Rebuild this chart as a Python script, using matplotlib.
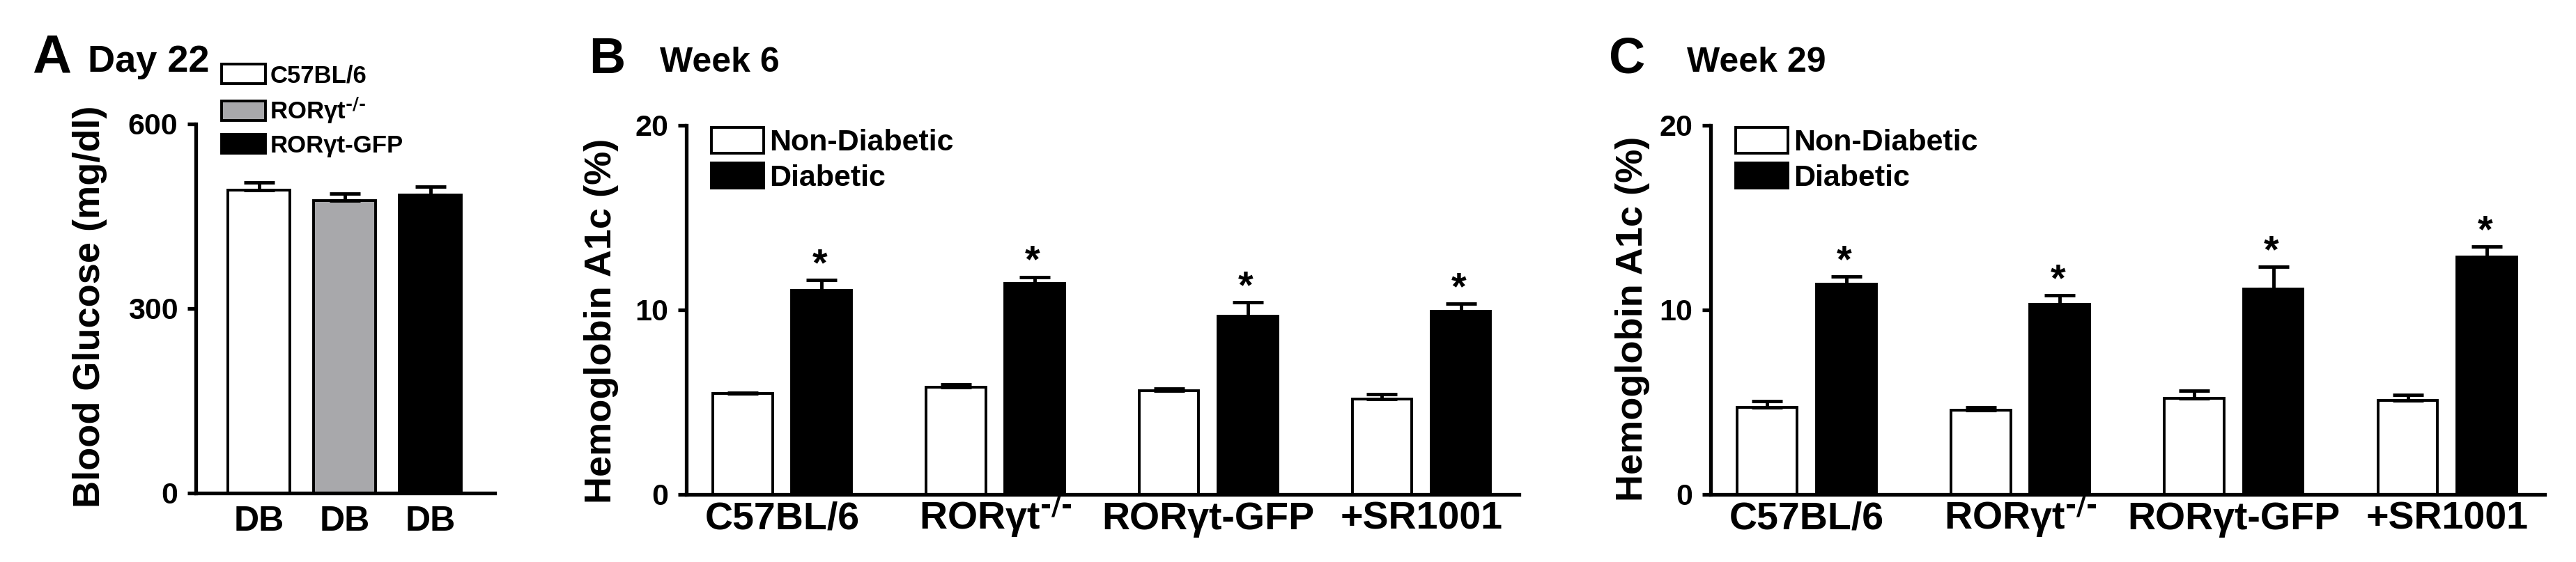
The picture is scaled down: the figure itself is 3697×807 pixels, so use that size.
import matplotlib
matplotlib.use("Agg")
import matplotlib.pyplot as plt
from matplotlib.patches import Patch
import numpy as np

plt.rcParams["font.family"] = ["Liberation Sans", "DejaVu Sans"]
plt.rcParams["font.weight"] = "bold"
plt.rcParams["axes.labelweight"] = "bold"
plt.rcParams["mathtext.default"] = "regular"

# panel A - blood glucose, day 22 (all diabetic)
strains_a = ["C57BL/6", r"RORγt$^{\text{-/-}}$", "RORγt-GFP"]
xlabels_a = ["DB", "DB", "DB"]
glucose_mean = [492, 475, 485]
glucose_sem = [13, 12, 13]
colors_a = ["white", "#a8a8ab", "black"]
yticks_a = [0, 300, 600]

# panels B and C - HbA1c
groups = ["C57BL/6", r"RORγt$^{\text{-/-}}$", "RORγt-GFP", "+SR1001"]
conditions = ["Non-Diabetic", "Diabetic"]
yticks_hb = [0, 10, 20]

wk6_nondiab = [5.47, 5.81, 5.62, 5.18]
wk6_nondiab_sem = [0.03, 0.14, 0.10, 0.27]
wk6_diab = [11.07, 11.45, 9.66, 9.91]
wk6_diab_sem = [0.56, 0.34, 0.74, 0.43]

wk29_nondiab = [4.73, 4.57, 5.21, 5.10]
wk29_nondiab_sem = [0.31, 0.16, 0.42, 0.30]
wk29_diab = [11.41, 10.31, 11.12, 12.85]
wk29_diab_sem = [0.41, 0.49, 1.21, 0.57]

LW_AX = 3.8
LW_BAR = 2.8
err_kw = dict(ecolor="black", elinewidth=3.5, capsize=15.5, capthick=3.5)


def style_axis(ax, ticks):
    for s in ["top", "right"]:
        ax.spines[s].set_visible(False)
    for s in ["left", "bottom"]:
        ax.spines[s].set_linewidth(LW_AX)
    ax.set_yticks(ticks)
    ax.tick_params(axis="y", direction="out", length=8.5, width=LW_AX, labelsize=31, pad=10)
    ax.tick_params(axis="x", length=0)


def set_xlabels(ax, labels, size, pad):
    ax.set_xticks(np.arange(len(labels)))
    ax.set_xticklabels(labels, fontsize=size)
    ax.tick_params(axis="x", pad=pad)
    # baseline alignment so the superscript label sits level with the others
    plt.setp(ax.get_xticklabels(), va="baseline")


def draw_hba1c(ax, nd, nd_sem, d, d_sem):
    x = np.arange(len(groups))
    off, w = 0.185, 0.28
    ax.bar(x - off, nd, w, color="white", edgecolor="black", linewidth=LW_BAR,
           yerr=[np.zeros(len(nd)), nd_sem], error_kw=err_kw, label=conditions[0])
    ax.bar(x + off, d, w, color="black", edgecolor="black", linewidth=LW_BAR,
           yerr=[np.zeros(len(d)), d_sem], error_kw=err_kw, label=conditions[1])
    for xi, m, e in zip(x + off, d, d_sem):
        ax.annotate("*", (xi, m + e), xytext=(-2, 5), textcoords="offset points",
                    ha="center", va="baseline", fontsize=40)
    ax.set_xlim(-0.45, 3.457)
    ax.set_ylim(0, 20)
    style_axis(ax, yticks_hb)
    set_xlabels(ax, groups, 40, 36)
    ax.set_ylabel("Hemoglobin A1c (%)", fontsize=39)
    handles = [Patch(facecolor="white", edgecolor="black", linewidth=LW_BAR),
               Patch(facecolor="black", edgecolor="black", linewidth=LW_BAR)]
    ax.legend(handles, conditions, loc="upper left", bbox_to_anchor=(0.03, 0.994),
              frameon=False, fontsize=31, handlelength=1.74, handleheight=0.93,
              handletextpad=0.19, labelspacing=0.2, borderpad=0, borderaxespad=0)


fig = plt.figure(figsize=(36.97, 8.07), dpi=100)
ax_a = fig.add_axes([0.0760, 0.1227, 0.1160, 0.6568])
ax_b = fig.add_axes([0.2664, 0.1202, 0.3232, 0.6568])
ax_c = fig.add_axes([0.6641, 0.1202, 0.3238, 0.6568])

# A
xa = np.arange(len(strains_a))
ax_a.bar(xa, glucose_mean, 0.72, color=colors_a, edgecolor="black", linewidth=LW_BAR,
         yerr=[np.zeros(len(xa)), glucose_sem], error_kw=err_kw)
ax_a.set_xlim(-0.736, 2.75)
ax_a.set_ylim(0, 600)
style_axis(ax_a, yticks_a)
set_xlabels(ax_a, xlabels_a, 36, 39)
ax_a.set_ylabel("Blood Glucose (mg/dl)", fontsize=39)
ax_a.yaxis.set_label_coords(-0.296, 0.506)
handles_a = [Patch(facecolor=c, edgecolor="black", linewidth=LW_BAR) for c in colors_a]
ax_a.legend(handles_a, strains_a, loc="upper left", bbox_to_anchor=(0.086, 1.162),
            frameon=False, fontsize=25, handlelength=1.83, handleheight=0.83,
            handletextpad=0.17, labelspacing=0.36, borderpad=0, borderaxespad=0)

# B, C
draw_hba1c(ax_b, wk6_nondiab, wk6_nondiab_sem, wk6_diab, wk6_diab_sem)
ax_b.yaxis.set_label_coords(-0.081, 0.47)
draw_hba1c(ax_c, wk29_nondiab, wk29_nondiab_sem, wk29_diab, wk29_diab_sem)
ax_c.yaxis.set_label_coords(-0.073, 0.475)

# panel letters and titles
fig.text(0.0124, 0.870, "A", fontsize=56, va="baseline")
fig.text(0.0341, 0.872, "Day 22", fontsize=39, va="baseline")
fig.text(0.2286, 0.870, "B", fontsize=52, va="baseline")
fig.text(0.2562, 0.872, "Week 6", fontsize=36, va="baseline")
fig.text(0.6246, 0.870, "C", fontsize=52, va="baseline")
fig.text(0.6549, 0.872, "Week 29", fontsize=36, va="baseline")

fig.savefig("out.png", dpi=100)
